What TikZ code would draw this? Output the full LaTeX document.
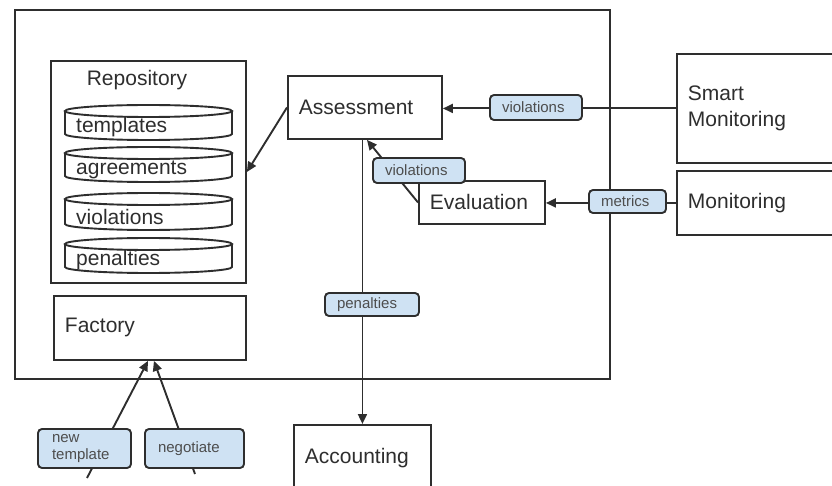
\documentclass[tikz,border=0pt]{standalone}
\usepackage{fontspec}
\setmainfont{Liberation Sans}
\usetikzlibrary{arrows.meta,calc}
\definecolor{ink}{HTML}{2E2E2E}
\definecolor{tagfill}{HTML}{CFE2F3}

% one database cylinder of the repository: name, top y, bottom y, text
\newcommand{\storecyl}[4]{%
  \draw[line, fill=white] (65,#2+6) -- (65,#3-6)
    arc[start angle=180, end angle=360, x radius=83.5pt, y radius=6pt]
    -- (232,#2+6);
  \draw[line, fill=white] (148.5,#2+6) ellipse [x radius=83.5pt, y radius=6pt];
  \node[anchor=west, text=ink, inner sep=0pt, font=\fontsize{21}{25}\selectfont]
    (#1) at (76,{(#2+#3)/2+5}) {#4};
}

\begin{document}
\begin{tikzpicture}[x=1pt, y=-1pt,
  line/.style={draw=ink, line width=1.9pt},
  blk/.style={line, fill=white, anchor=north west, inner xsep=11pt, inner ysep=0pt,
    align=left, text=ink, font=\fontsize{21}{26}\selectfont},
  frame/.style={line, anchor=north west, inner sep=0pt},
  tag/.style={line, fill=tagfill, rounded corners=4pt, inner xsep=12pt, inner ysep=0pt,
    align=left, text=ink!85, font=\fontsize{15}{17}\selectfont},
  arr/.style={line, -{Triangle[length=10pt, width=9pt]}},
]
\useasboundingbox (0,0) rectangle (832,486);
\clip (0,0) rectangle (832,486);

% system boundary
\node[frame, minimum width=595pt, minimum height=369pt] (system) at (14,9) {};

% repository with its stores
\node[frame, minimum width=195pt, minimum height=222pt] (repo) at (50,60) {};
\node[text=ink, font=\fontsize{21}{25}\selectfont] (repo-title) at (137,80) {Repository};
\storecyl{templates}{105}{140}{templates}
\storecyl{agreements}{147}{182}{agreements}
\storecyl{violations}{193}{230}{violations}
\storecyl{penalties}{238}{273}{penalties}

% components
\node[blk, minimum width=192pt, minimum height=64pt, text width=170pt] (factory) at (53,295) {Factory};
\node[blk, minimum width=154pt, minimum height=63pt, text width=132pt] (assess) at (287,75) {Assessment};
\node[blk, minimum width=126pt, minimum height=43pt, text width=104pt] (eval) at (418,180) {Evaluation};
\node[blk, minimum width=137pt, minimum height=66pt, text width=115pt] (acct) at (293,424) {Accounting};
\node[blk, minimum width=184pt, minimum height=109pt, text width=162pt] (smart) at (676,53) {Smart\\Monitoring};
\node[blk, minimum width=184pt, minimum height=64pt, text width=162pt] (mon) at (676,170) {Monitoring};

% connectors
\coordinate (nt-tail) at (87,478);
\coordinate (ng-tail) at (195,474);
\draw[arr] (assess.west) -- (repo.east);
\draw[arr] (smart.west) -- (smart.west -| assess.east);
\draw[arr] (mon.west) -- (mon.west -| eval.east);
\draw[arr] (eval.west) -- ([xshift=2pt]assess.south);
\draw[arr] (acct.north |- assess.south) -- (acct.north);
\draw[arr] (nt-tail) -- ([xshift=-2pt]factory.south);
\draw[arr] (ng-tail) -- ([xshift=4pt]factory.south);

% connector labels
\node[tag, minimum width=92pt, minimum height=25pt, text width=68pt] (tag-smart) at (536,107.5) {violations};
\node[tag, minimum width=92pt, minimum height=25pt, text width=68pt] (tag-eval) at (419,170.5) {violations};
\node[tag, minimum width=77pt, minimum height=23pt, text width=53pt] (tag-metrics) at (627.5,201.5) {metrics};
\node[tag, minimum width=94pt, minimum height=23pt, text width=70pt] (tag-penalties) at (372,304.5) {penalties};
\node[tag, minimum width=93pt, minimum height=39pt, text width=65pt, inner xsep=14pt] (tag-new) at (84.5,448.5) {new\\template};
\node[tag, minimum width=99pt, minimum height=39pt, text width=73pt, inner xsep=13pt] (tag-negotiate) at (194.5,448.5) {negotiate};
\end{tikzpicture}
\end{document}
